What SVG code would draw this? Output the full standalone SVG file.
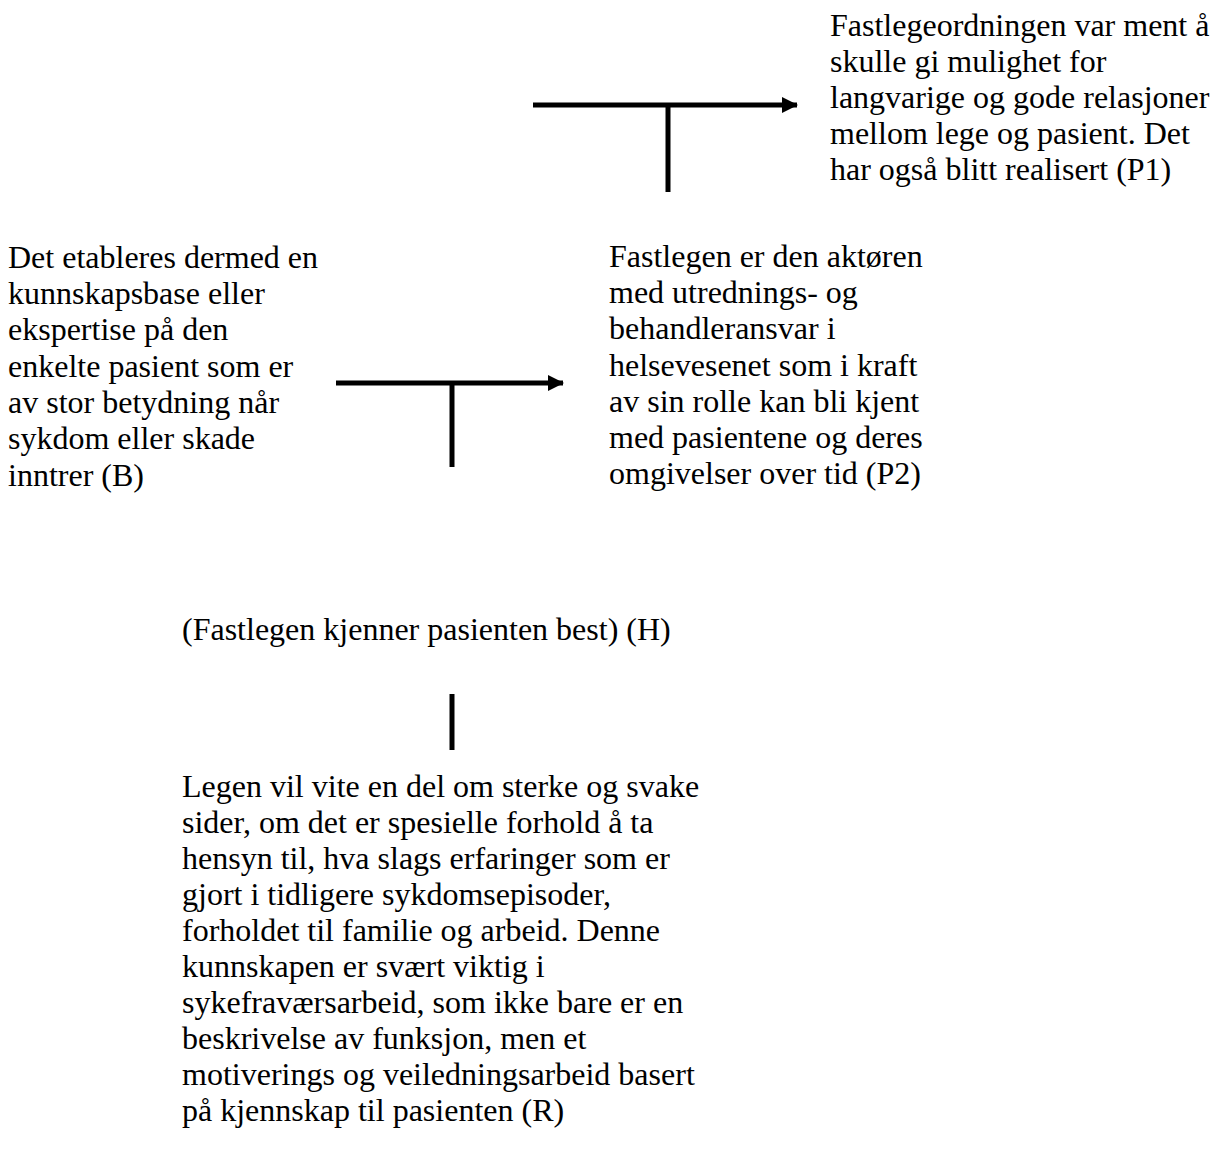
<svg xmlns="http://www.w3.org/2000/svg" width="1221" height="1160" viewBox="0 0 1221 1160">
  <style>
    .t { font-family: "Liberation Serif", "Times New Roman", serif; font-size: 32px; fill: #000; }
    .c { stroke: #000; stroke-width: 5; fill: none; }
  </style>
  <defs>
    <marker id="head" markerUnits="userSpaceOnUse" markerWidth="16" markerHeight="16" refX="15" refY="8" orient="auto">
      <path d="M0,0 L16,8 L0,16 Z" fill="#000"/>
    </marker>
  </defs>
  <rect width="1221" height="1160" fill="#fff"/>

  <g id="node-p1">
    <text class="t" x="830" y="36">Fastlegeordningen var ment å</text>
    <text class="t" x="830" y="72">skulle gi mulighet for</text>
    <text class="t" x="830" y="108">langvarige og gode relasjoner</text>
    <text class="t" x="830" y="144">mellom lege og pasient. Det</text>
    <text class="t" x="830" y="180">har også blitt realisert (P1)</text>
  </g>

  <g id="node-b">
    <text class="t" x="8" y="268">Det etableres dermed en</text>
    <text class="t" x="8" y="304">kunnskapsbase eller</text>
    <text class="t" x="8" y="340">ekspertise på den</text>
    <text class="t" x="8" y="377">enkelte pasient som er</text>
    <text class="t" x="8" y="413">av stor betydning når</text>
    <text class="t" x="8" y="449">sykdom eller skade</text>
    <text class="t" x="8" y="486">inntrer (B)</text>
  </g>

  <g id="node-p2">
    <text class="t" x="609" y="267">Fastlegen er den aktøren</text>
    <text class="t" x="609" y="303">med utrednings- og</text>
    <text class="t" x="609" y="339">behandleransvar i</text>
    <text class="t" x="609" y="376">helsevesenet som i kraft</text>
    <text class="t" x="609" y="412">av sin rolle kan bli kjent</text>
    <text class="t" x="609" y="448">med pasientene og deres</text>
    <text class="t" x="609" y="484">omgivelser over tid (P2)</text>
  </g>

  <g id="node-h">
    <text class="t" x="182" y="640">(Fastlegen kjenner pasienten best) (H)</text>
  </g>

  <g id="node-r">
    <text class="t" x="182" y="797">Legen vil vite en del om sterke og svake</text>
    <text class="t" x="182" y="833">sider, om det er spesielle forhold å ta</text>
    <text class="t" x="182" y="869">hensyn til, hva slags erfaringer som er</text>
    <text class="t" x="182" y="905">gjort i tidligere sykdomsepisoder,</text>
    <text class="t" x="182" y="941">forholdet til familie og arbeid. Denne</text>
    <text class="t" x="182" y="977">kunnskapen er svært viktig i</text>
    <text class="t" x="182" y="1013">sykefraværsarbeid, som ikke bare er en</text>
    <text class="t" x="182" y="1049">beskrivelse av funksjon, men et</text>
    <text class="t" x="182" y="1085">motiverings og veiledningsarbeid basert</text>
    <text class="t" x="182" y="1121">på kjennskap til pasienten (R)</text>
  </g>

  <g id="connectors">
    <!-- P2 supports P1 -->
    <line class="c" x1="533" y1="105" x2="797" y2="105" marker-end="url(#head)"/>
    <line class="c" x1="668" y1="105" x2="668" y2="192"/>
    <!-- B supports P2 -->
    <line class="c" x1="336" y1="383" x2="563" y2="383" marker-end="url(#head)"/>
    <line class="c" x1="452" y1="383" x2="452" y2="467"/>
    <!-- R supports H -->
    <line class="c" x1="452" y1="694" x2="452" y2="750"/>
  </g>
</svg>
